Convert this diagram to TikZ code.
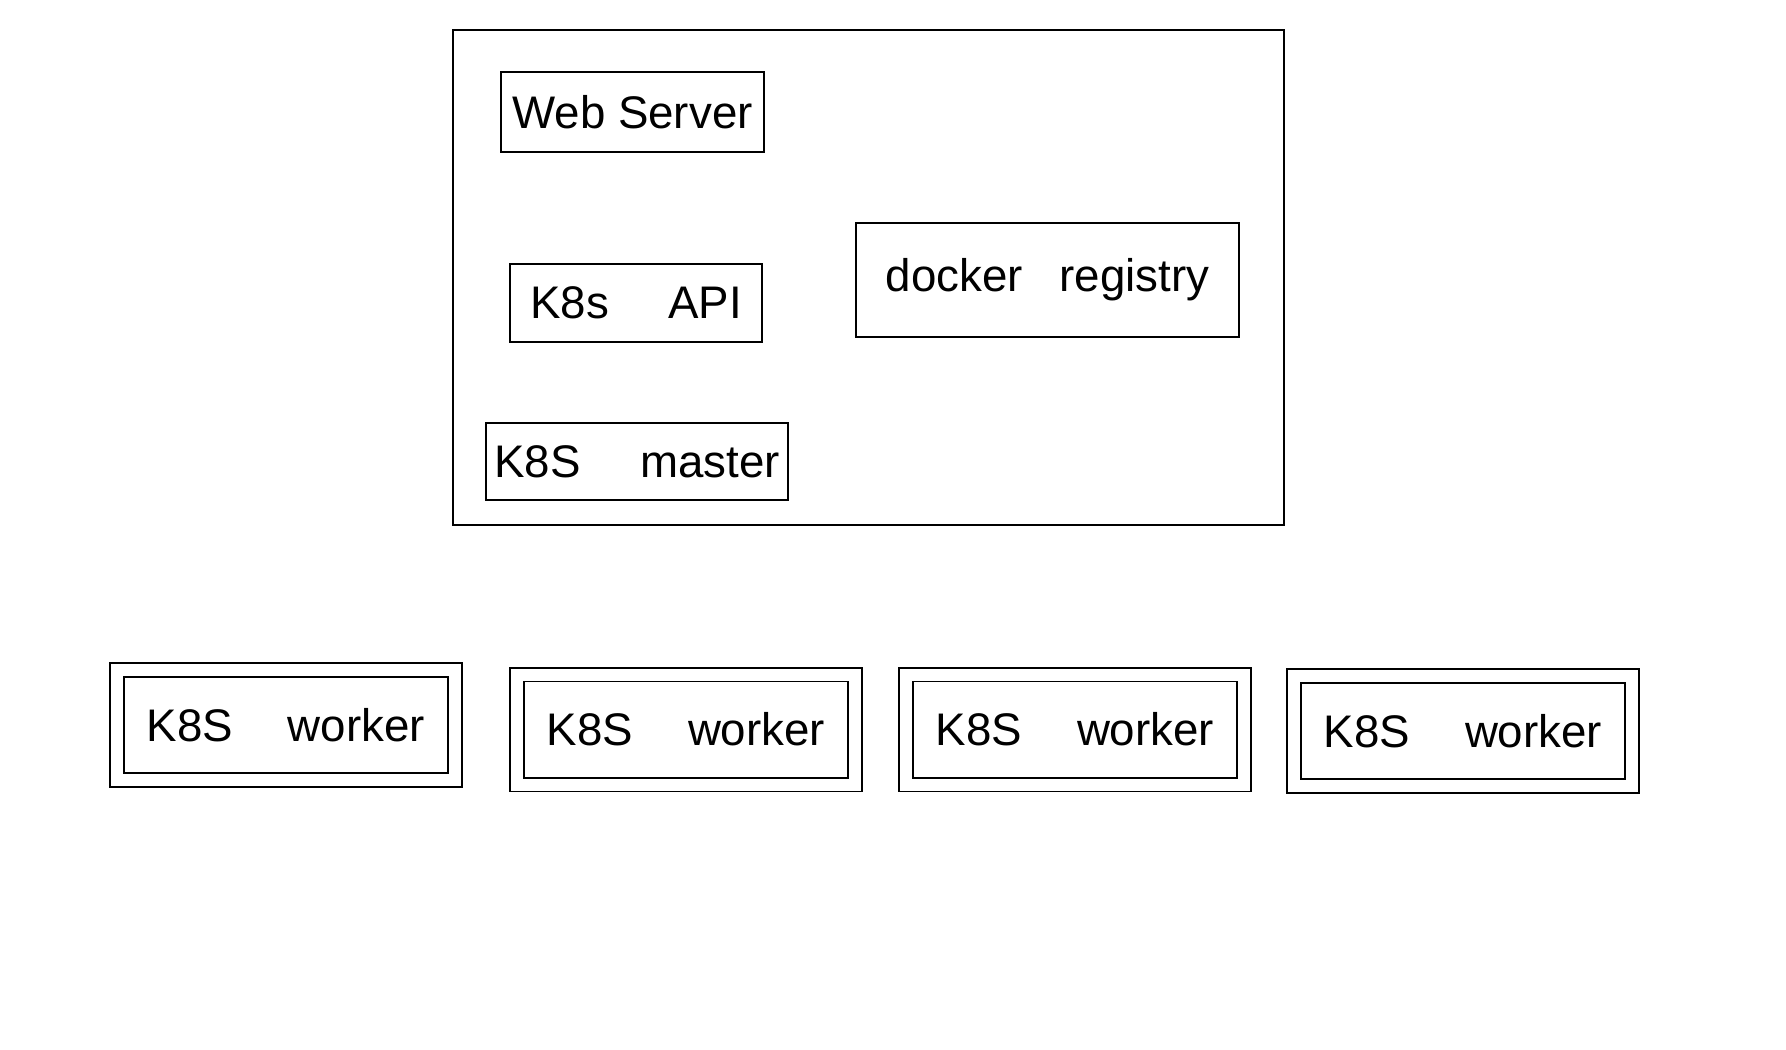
\documentclass[tikz,border=0pt]{standalone}
\usepackage{fontspec}
\setmainfont{Liberation Sans}
\begin{document}
\begin{tikzpicture}[x=0.02cm,y=-0.02cm,
    box/.style={draw,line width=1.1pt,inner sep=0pt,font=\fontsize{26}{30}\selectfont},
    worker/.style={box,double,double distance=0.24cm,line width=1pt,minimum width=6.76cm,minimum height=2.2cm}]
    \useasboundingbox (0,0) rectangle (1786,1049);
    % master machine
    \node [draw,line width=1.3pt,minimum width=16.62cm,minimum height=9.9cm] (host) at (868.5,277.5) {};
    \node [box,minimum width=5.26cm,minimum height=1.6cm] (web) at (632.5,112) {Web Server};
    \node [box,minimum width=5.04cm,minimum height=1.56cm] (api) at (636,303) {K8s\hspace{1.3em}API};
    \node [box,minimum width=7.66cm,minimum height=2.28cm] (registry) at (1047.5,280) {docker\hspace{0.8em}registry};
    \node [box,minimum width=6.04cm,minimum height=1.54cm] (master) at (637,461.5) {K8S\hspace{1.3em}master};
    % workers
    \foreach \i/\x/\y in {1/286/725, 2/686/729.5, 3/1075/729.5, 4/1463/731}
      \node [worker] (worker\i) at (\x,\y) {K8S\hspace{1.2em}worker};
  \end{tikzpicture}
\end{document}
